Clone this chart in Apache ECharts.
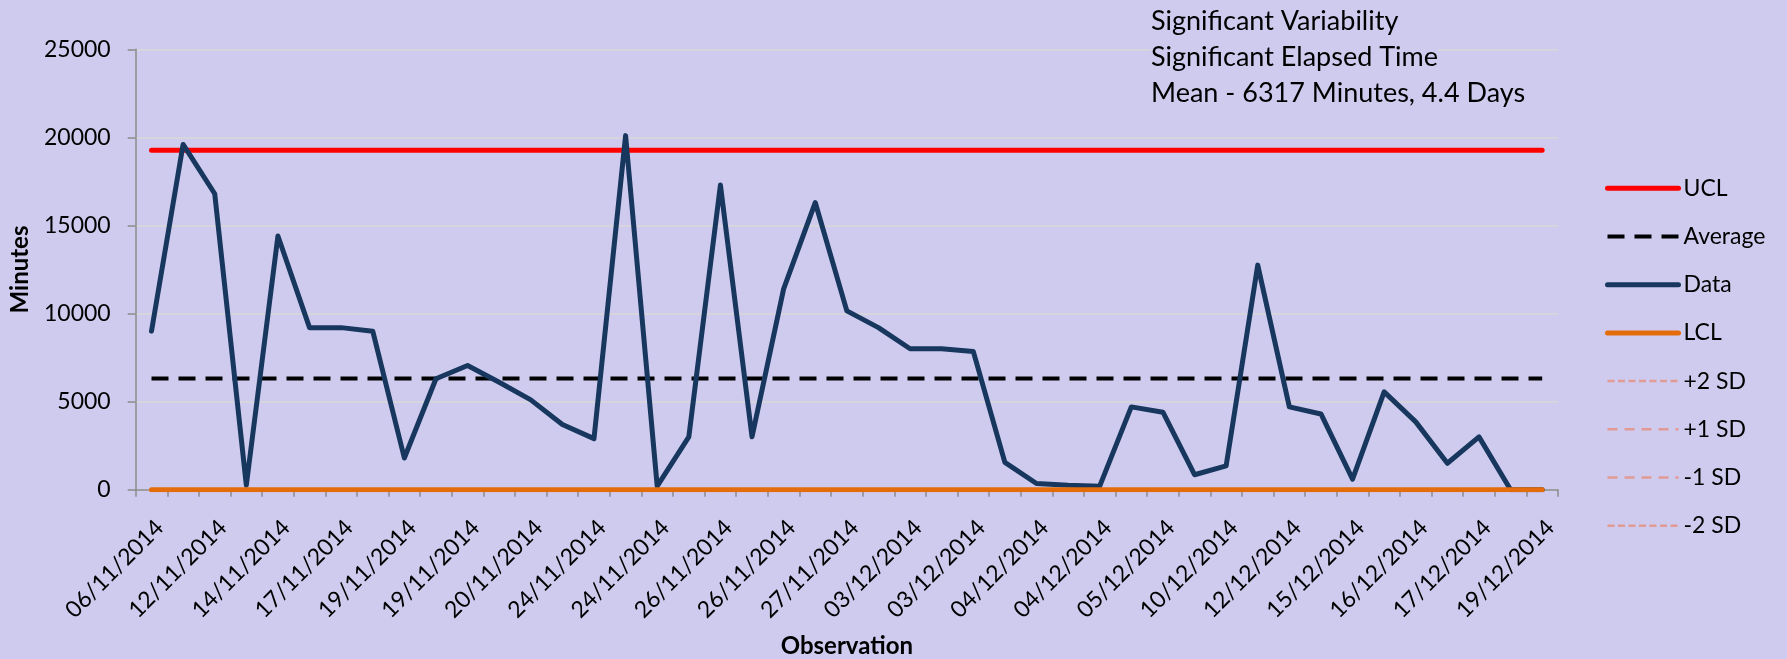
<!DOCTYPE html>
<html>
<head>
<meta charset="utf-8">
<title>Control chart – elapsed time per observation</title>
<script src="https://cdn.jsdelivr.net/npm/echarts@6/dist/echarts.min.js"></script>
<style>
  html, body { margin: 0; padding: 0; background: #cfcbee; }
  #chart { width: 1787px; height: 659px; }
</style>
</head>
<body>
<div id="chart"></div>
<script>
// Observation numbers (one category per observation)
const observations = Array.from({ length: 45 }, (_, i) => i + 1);

// Dates printed under every second observation
const dateLabels = [
  '06/11/2014', '12/11/2014', '14/11/2014', '17/11/2014', '19/11/2014', '19/11/2014',
  '20/11/2014', '24/11/2014', '24/11/2014', '26/11/2014', '26/11/2014', '27/11/2014',
  '03/12/2014', '03/12/2014', '04/12/2014', '04/12/2014', '05/12/2014', '10/12/2014',
  '12/12/2014', '15/12/2014', '16/12/2014', '17/12/2014', '19/12/2014'
];

// Elapsed minutes per observation
const minutes = [
  9000, 19600, 16800, 250, 14400, 9200, 9200, 9000, 1800, 6300,
  7050, 6100, 5100, 3700, 2900, 20100, 200, 3000, 17300, 3000,
  11400, 16300, 10150, 9200, 8000, 8000, 7850, 1550, 350, 250,
  200, 4700, 4400, 850, 1350, 12750, 4700, 4300, 600, 5550,
  3850, 1500, 3000, 0, 0
];

// Control limits
const meanValue = 6317;
const uclValue = 19265;
const lclValue = 0;

// Value axis ticks
const yTicks = [0, 5000, 10000, 15000, 20000, 25000];

const noteLines = [
  'Significant Variability',
  'Significant Elapsed Time',
  'Mean - 6317 Minutes, 4.4 Days'
];

const BG = '#cfcbee';
const FONT = 'Lato';
const SD_COLOR = '#e29a94';

const flat = v => observations.map(() => v);

const chart = echarts.init(document.getElementById('chart'), null, { renderer: 'canvas' });

chart.setOption({
  backgroundColor: BG,
  animation: false,
  textStyle: { fontFamily: FONT, color: '#000' },
  title: {
    left: 1151,
    top: 3.6,
    padding: 0,
    text: noteLines.map(s => '{t|' + s + '}').join('\n'),
    textStyle: {
      fontWeight: 'normal',
      rich: {
        t: {
          fontFamily: FONT, fontSize: 27, fontWeight: 'normal', lineHeight: 36,
          color: '#000', backgroundColor: BG
        }
      }
    }
  },
  legend: {
    orient: 'vertical',
    left: 1605,
    top: 176.3,
    itemWidth: 71,
    itemHeight: 24,
    itemGap: 24.2,
    padding: 0,
    textStyle: { fontFamily: FONT, fontSize: 23, color: '#000', lineHeight: 24 },
    lineStyle: { width: 'inherit' },
    itemStyle: { opacity: 0 },
    data: ['UCL', 'Average', 'Data', 'LCL', '+2 SD', '+1 SD', '-1 SD', '-2 SD']
  },
  grid: {
    left: 135.7, right: 229, top: 49.3, bottom: 169.3,
    containLabel: false,
    outerBoundsMode: 'none'
  },
  xAxis: {
    type: 'category',
    data: observations,
    boundaryGap: true,
    name: 'Observation',
    nameLocation: 'middle',
    nameGap: 145,
    nameTextStyle: { fontFamily: FONT, fontSize: 24, fontWeight: 'bold', color: '#000' },
    axisLine: { lineStyle: { color: '#8c8c8c', width: 1.5 } },
    axisTick: { show: true, interval: 0, length: 7, lineStyle: { color: '#8c8c8c', width: 1.5 } },
    axisLabel: {
      interval: 1,
      rotate: 45,
      margin: 26,
      align: 'right',
      verticalAlign: 'top',
      fontFamily: FONT,
      fontSize: 23,
      color: '#000',
      formatter: (v, i) => (i % 2 === 0 ? dateLabels[i / 2] : '')
    },
    splitLine: { show: false }
  },
  yAxis: {
    type: 'value',
    min: yTicks[0],
    max: yTicks[yTicks.length - 1],
    interval: yTicks[1] - yTicks[0],
    name: 'Minutes',
    nameLocation: 'middle',
    nameRotate: 90,
    nameGap: 103,
    nameTextStyle: { fontFamily: FONT, fontSize: 24, fontWeight: 'bold', color: '#000' },
    axisLine: { show: true, lineStyle: { color: '#8c8c8c', width: 1.5 } },
    axisTick: { show: true, length: 8, lineStyle: { color: '#8c8c8c', width: 1.5 } },
    axisLabel: {
      margin: 25,
      fontFamily: FONT,
      fontSize: 23,
      color: '#000',
      formatter: v => String(v)
    },
    splitLine: { show: true, lineStyle: { color: '#d9d9d9', width: 1.5 } }
  },
  series: [
    {
      name: 'UCL', type: 'line', data: flat(uclValue), symbol: 'none',
      lineStyle: { color: '#ff0000', width: 5, cap: 'round' },
      itemStyle: { color: '#ff0000' }
    },
    {
      name: 'Average', type: 'line', data: flat(meanValue), symbol: 'none',
      lineStyle: { color: '#000000', width: 4, type: [17, 10], cap: 'butt' },
      itemStyle: { color: '#000000' }
    },
    {
      name: 'Data', type: 'line', data: minutes, symbol: 'none',
      lineStyle: { color: '#17375e', width: 5, cap: 'round', join: 'round' },
      itemStyle: { color: '#17375e' }
    },
    {
      name: 'LCL', type: 'line', data: flat(lclValue), symbol: 'none',
      lineStyle: { color: '#e46c0a', width: 5, cap: 'round' },
      itemStyle: { color: '#e46c0a' }
    },
    {
      name: '+2 SD', type: 'line', data: [], symbol: 'none',
      lineStyle: { color: SD_COLOR, width: 2.5, type: [7, 3.5] },
      itemStyle: { color: SD_COLOR }
    },
    {
      name: '+1 SD', type: 'line', data: [], symbol: 'none',
      lineStyle: { color: SD_COLOR, width: 2.5, type: [10, 7] },
      itemStyle: { color: SD_COLOR }
    },
    {
      name: '-1 SD', type: 'line', data: [], symbol: 'none',
      lineStyle: { color: SD_COLOR, width: 2.5, type: [10, 7] },
      itemStyle: { color: SD_COLOR }
    },
    {
      name: '-2 SD', type: 'line', data: [], symbol: 'none',
      lineStyle: { color: SD_COLOR, width: 2.5, type: [7, 3.5] },
      itemStyle: { color: SD_COLOR }
    }
  ]
});
</script>
</body>
</html>
